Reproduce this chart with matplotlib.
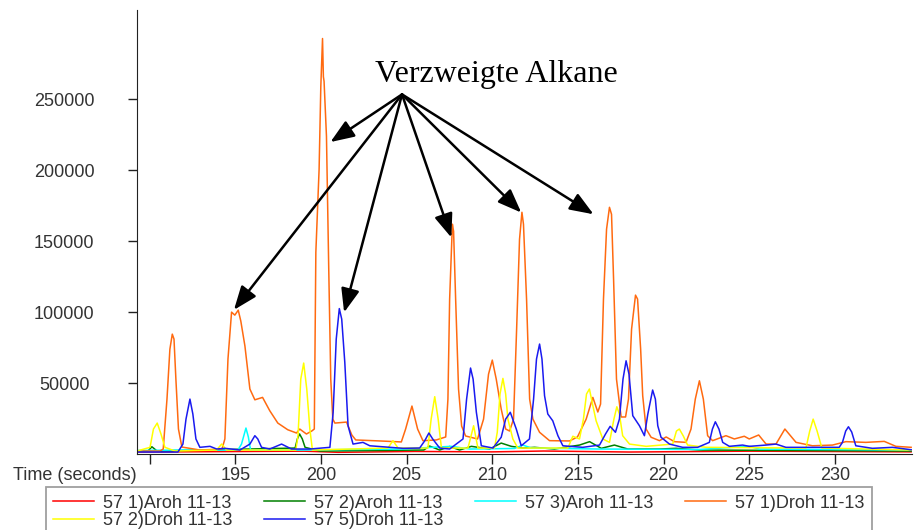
import matplotlib
matplotlib.use("Agg")
import matplotlib.pyplot as plt

plt.rcParams['font.family'] = ['Liberation Sans', 'DejaVu Sans']

# ---- data (time in s, intensity) ----
red_t = [189.26, 193.0, 199.0, 201.0, 205.5, 210.0, 213.0, 218.0, 225.0, 234.45]
red_v = [1400, 1600, 2000, 1200, 1800, 1500, 2100, 1400, 2000, 1500]

green_t = [189.26, 189.90, 190.13, 190.43, 198.49, 198.62, 198.75, 198.91, 199.07, 199.93,
           206.0, 206.34, 206.93, 207.51, 208.09, 208.78, 209.84, 210.52, 211.11, 211.78,
           212.47, 213.63, 214.61, 215.09, 215.68, 216.36, 217.13, 217.91, 219.76, 220.73,
           222.09, 234.45]
green_v = [2100, 2100, 5100, 2100, 4200, 10600, 14100, 10600, 4700, 2100,
           2800, 5600, 2800, 5300, 2800, 5400, 3500, 7700, 5400, 4200,
           4700, 3500, 5400, 6300, 8700, 4000, 6300, 3500, 3500, 4000,
           2800, 2100]

cyan_t = [189.26, 191.77, 195.15, 195.36, 195.62, 195.76, 195.89, 198.76, 204.59, 207.61,
          208.68, 211.30, 211.78, 212.29, 216.26, 222.09, 225.00, 225.58, 234.45]
cyan_v = [2500, 2800, 2800, 7000, 18300, 12000, 2800, 2800, 3500, 5400,
          3500, 3900, 6300, 4200, 3500, 3200, 5400, 3500, 2800]

orange_t = [189.26, 190.60, 190.79, 191.01, 191.18, 191.32, 191.42, 191.53, 191.68, 191.88,
            192.93, 194.22, 194.39, 194.57, 194.78, 194.97, 195.17, 195.32, 195.56, 195.85,
            196.14, 196.59, 197.01, 197.48, 198.06, 198.57, 198.76, 199.15, 199.46, 199.61,
            199.70, 199.89, 199.99, 200.09, 200.14, 200.18, 200.32, 200.45, 200.57, 200.69,
            200.81, 201.49, 201.80, 202.03, 203.43, 204.69, 204.94, 205.31, 205.64, 205.95,
            206.73, 207.28, 207.41, 207.51, 207.67, 207.74, 207.86, 208.03, 208.21, 208.44,
            209.14, 209.49, 209.78, 210.00, 210.23, 210.52, 210.78, 211.01, 211.24, 211.42,
            211.59, 211.73, 211.82, 212.00, 212.18, 212.37, 212.76, 213.34, 214.51, 214.97,
            215.48, 215.87, 216.16, 216.32, 216.49, 216.67, 216.84, 216.96, 217.08, 217.25,
            217.52, 217.78, 217.95, 218.13, 218.36, 218.48, 218.66, 218.78, 218.98, 219.27,
            219.76, 220.15, 220.63, 221.31, 221.60, 221.85, 222.09, 222.32, 222.57, 222.86,
            223.64, 224.13, 224.71, 225.00, 225.55, 225.98, 226.56, 227.08, 227.73, 228.69,
            229.86, 230.64, 231.81, 232.88, 233.56, 234.45]
orange_v = [2100, 2100, 3500, 38700, 73900, 84500, 81000, 52800, 17600, 4900,
            2800, 3500, 10600, 66900, 100000, 97900, 101400, 93700, 76100, 45800,
            38200, 39900, 30500, 21800, 17100, 14800, 17600, 14100, 16200, 17600,
            142200, 200700, 259100, 292900, 266000, 262700, 224000, 132400, 52800, 24600,
            21800, 22500, 13400, 9900, 9200, 8500, 17600, 33800, 17600, 9400,
            9900, 12000, 38700, 109200, 162000, 157000, 109200, 45800, 19700, 12700,
            10600, 24600, 56300, 66200, 52800, 31700, 17600, 16200, 24600, 88000,
            151400, 170400, 162000, 109200, 38700, 24600, 15300, 9400, 9200, 12000,
            24600, 39900, 29600, 35200, 109200, 158500, 173900, 169000, 123200, 52800,
            26100, 26100, 38700, 88000, 112000, 109200, 73900, 41100, 17600, 11800,
            9400, 12000, 8700, 8200, 17600, 38700, 51600, 38700, 12900, 9400,
            12900, 10600, 12500, 10600, 13400, 7000, 7000, 17600, 8200, 5800,
            6300, 8700, 8200, 8900, 5400, 4700]

yellow_t = [189.26, 190.02, 190.22, 190.44, 190.66, 190.89, 191.48, 193.91, 194.20, 194.49,
            198.53, 198.66, 198.82, 198.99, 199.17, 199.35, 199.50, 203.91, 204.20, 204.50,
            206.24, 206.43, 206.64, 206.84, 207.03, 208.58, 208.91, 209.16, 210.13, 210.29,
            210.45, 210.62, 210.78, 210.91, 211.20, 211.49, 214.41, 214.70, 215.09, 215.32,
            215.50, 215.67, 215.85, 216.06, 216.45, 216.84, 217.10, 217.27, 217.42, 217.61,
            218.01, 218.98, 220.53, 220.75, 220.92, 221.15, 221.40, 222.48, 228.31, 228.53,
            228.73, 228.96, 229.24, 234.45]
yellow_v = [2100, 4700, 17600, 21800, 14100, 4700, 2100, 2800, 7000, 2800,
            2800, 12900, 52800, 64100, 45800, 17600, 2800, 4200, 9400, 4200,
            4200, 24600, 40400, 24600, 4200, 4200, 19900, 4200, 4200, 15300,
            42300, 53300, 42300, 24600, 10600, 4200, 4200, 12500, 10600, 24600,
            42300, 45800, 35200, 23400, 10600, 8200, 24600, 33300, 28200, 12900,
            7000, 5400, 7000, 16200, 17600, 12700, 6300, 4700, 4200, 16200,
            24600, 16200, 4200, 2800]

blue_t = [189.26, 191.65, 191.94, 192.12, 192.35, 192.52, 192.70, 192.93, 193.52, 193.91,
          194.39, 195.27, 195.85, 196.14, 196.31, 196.53, 197.01, 197.70, 198.28, 199.35,
          200.52, 200.71, 200.89, 201.07, 201.21, 201.39, 201.58, 201.87, 202.45, 202.85,
          204.79, 205.76, 206.05, 206.30, 206.52, 206.93, 207.51, 208.29, 208.50, 208.73,
          208.88, 209.07, 209.36, 210.04, 210.52, 210.78, 211.05, 211.40, 211.69, 212.17,
          212.41, 212.58, 212.76, 212.90, 213.05, 213.24, 213.53, 213.83, 214.12, 215.28,
          216.26, 216.61, 216.88, 217.19, 217.42, 217.63, 217.81, 217.98, 218.20, 218.59,
          218.88, 219.08, 219.36, 219.52, 219.66, 219.85, 220.34, 221.11, 221.99, 222.67,
          222.85, 223.02, 223.23, 223.45, 223.84, 224.61, 225.00, 225.98, 226.56, 227.14,
          230.25, 230.44, 230.63, 230.79, 230.98, 231.22, 232.19, 233.36, 234.45]
blue_v = [1400, 1400, 7000, 24600, 38700, 28200, 10600, 4700, 5400, 3500,
          4000, 2800, 7000, 12900, 10600, 4700, 3500, 7000, 3500, 3500,
          4700, 29400, 81000, 102500, 95100, 64600, 19900, 7000, 8200, 5800,
          4000, 4200, 9200, 14800, 10600, 4200, 3500, 10600, 38700, 60600,
          52800, 29400, 5800, 4200, 11800, 24600, 29400, 17600, 5800, 10600,
          38700, 66900, 77500, 66900, 41100, 28200, 23400, 12900, 5800, 4700,
          6300, 14100, 19500, 15300, 24600, 52800, 65700, 56300, 27000, 19900,
          12900, 28200, 45100, 38700, 19900, 11800, 7000, 4700, 4700, 8200,
          17600, 22700, 17600, 8200, 5400, 6300, 5400, 6300, 7000, 4700,
          4700, 8200, 16200, 19200, 15500, 5800, 4000, 4700, 3000]

series = [
    ("57 1)Aroh 11-13", red_t, red_v, "#FF0000"),
    ("57 2)Aroh 11-13", green_t, green_v, "#008000"),
    ("57 3)Aroh 11-13", cyan_t, cyan_v, "#00FFFF"),
    ("57 1)Droh 11-13", orange_t, orange_v, "#FF6A10"),
    ("57 2)Droh 11-13", yellow_t, yellow_v, "#FFFF00"),
    ("57 5)Droh 11-13", blue_t, blue_v, "#1A1AF0"),
]

x_ticks = [190, 195, 200, 205, 210, 215, 220, 225, 230]
x_labels = ["", "195", "200", "205", "210", "215", "220", "225", "230"]
y_ticks = [50000, 100000, 150000, 200000, 250000]

label_text = "Verzweigte Alkane"
label_pos = (210.23, 267600)
arrow_origin = (204.73, 253500)
arrow_tips = [(194.92, 101600), (200.55, 219900), (201.35, 99800),
              (207.61, 152600), (211.69, 170200), (215.91, 169000)]

fig = plt.figure(figsize=(9.14, 5.30), dpi=100)
ax = fig.add_axes([137 / 914, 1 - 454 / 530, (912 - 137) / 914, (454 - 10) / 530])

lines = {}
for name, t, v, col in series:
    lines[name], = ax.plot(t, v, color=col, lw=1.1, label=name)

ax.set_xlim(189.26, 234.5)
ax.set_ylim(0, 313000)

ax.spines['top'].set_visible(False)
ax.spines['right'].set_visible(False)
ax.spines['left'].set_color('#222222')
ax.spines['bottom'].set_color('#222222')

ax.set_xticks(x_ticks)
ax.set_xticklabels(x_labels)
ax.set_yticks(y_ticks)
ax.set_yticklabels([str(v) for v in y_ticks])
ax.tick_params(axis='x', length=7.5, width=1, colors='#222222', labelcolor='#333333',
               labelsize=13, pad=2)
ax.tick_params(axis='y', length=6.3, width=1, colors='#222222', labelcolor='#333333',
               labelsize=13, pad=46)
for lab in ax.get_yticklabels():
    lab.set_horizontalalignment('center')

fig.text(137 / 914, 1 - 476 / 530, "Time (seconds)", ha='right', va='center',
         fontsize=13, color='#333333')

# annotation arrows
for tip in arrow_tips:
    ax.annotate("", xy=tip, xytext=arrow_origin,
                arrowprops=dict(arrowstyle='-|>,head_length=0.72,head_width=0.28',
                                mutation_scale=20, lw=1.8, color='black',
                                shrinkA=0, shrinkB=0))
ax.text(label_pos[0], label_pos[1], label_text, ha='center', va='center',
        fontsize=23, family=['Liberation Serif', 'DejaVu Serif'], color='black')

# legend: order so that rows read A1 A2 A3 D1 / D2 D5
order = ["57 1)Aroh 11-13", "57 2)Droh 11-13", "57 2)Aroh 11-13", "57 5)Droh 11-13",
         "57 3)Aroh 11-13", "57 1)Droh 11-13"]
leg = fig.legend([lines[n] for n in order], order, loc='upper left',
                 bbox_to_anchor=(45.7 / 914, 1 - 487.3 / 530), ncol=4,
                 fontsize=13, frameon=True, fancybox=False, handlelength=2.3,
                 handletextpad=0.5, columnspacing=1.72, labelspacing=0.05,
                 borderpad=0.4, borderaxespad=0)
leg.get_frame().set_edgecolor('#888888')
leg.get_frame().set_linewidth(1.3)
for txt in leg.get_texts():
    txt.set_color('#333333')

fig.savefig("out.png", dpi=100)
